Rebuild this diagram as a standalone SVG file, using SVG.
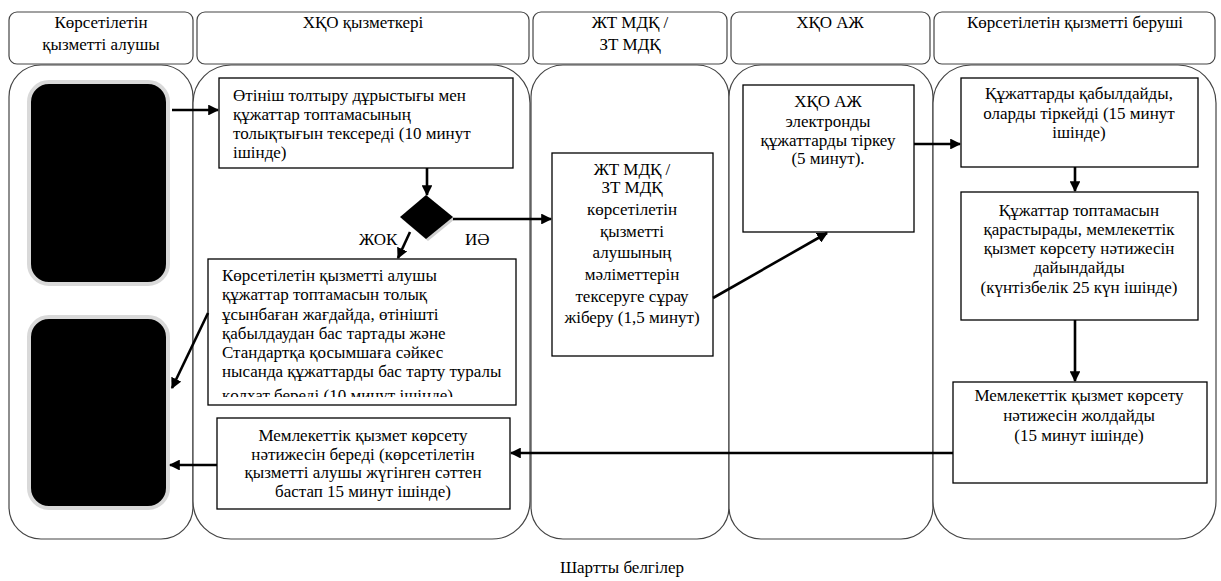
<svg xmlns="http://www.w3.org/2000/svg" width="1221" height="581" viewBox="0 0 1221 581" font-family="'Liberation Serif', 'DejaVu Serif', serif">
<style>
text{font-family:'Liberation Serif','DejaVu Serif',serif;font-size:17px;fill:#000}
.c{text-anchor:middle}
.hdr{fill:#fff;stroke:#444;stroke-width:1.2}
.lane{fill:#fff;stroke:#444;stroke-width:1.2}
.box{fill:#fff;stroke:#000;stroke-width:1.3}
.blk{fill:#000;stroke:#d9d9d9;stroke-width:4}
.ar{fill:none;stroke:#000;stroke-width:2.6;marker-end:url(#ah)}
</style>
<defs>
<marker id="ah" viewBox="0 0 10 10" refX="9" refY="5" markerWidth="4.2" markerHeight="4.2" orient="auto" markerUnits="strokeWidth">
<path d="M0,0 L10,5 L0,10 z" fill="#000"/>
</marker>
<clipPath id="clipRef"><rect x="208" y="259" width="308" height="138"/></clipPath>
</defs>
<rect width="1221" height="581" fill="#fff"/>
<g id="headers">
<g id="h1"><rect class="hdr" x="9" y="12" width="184" height="52" rx="8"/><text class="c" x="101" y="28">Көрсетілетін</text><text class="c" x="101" y="50">қызметті алушы</text></g>
<g id="h2"><rect class="hdr" x="197" y="12" width="332" height="52" rx="8"/><text class="c" x="363" y="28">ХҚО қызметкері</text></g>
<g id="h3"><rect class="hdr" x="533" y="12" width="194" height="52" rx="8"/><text class="c" x="630" y="28">ЖТ МДҚ /</text><text class="c" x="630" y="50">ЗТ МДҚ</text></g>
<g id="h4"><rect class="hdr" x="731" y="12" width="199" height="52" rx="8"/><text class="c" x="830" y="28">ХҚО АЖ</text></g>
<g id="h5"><rect class="hdr" x="934" y="12" width="281" height="52" rx="8"/><text class="c" x="1075" y="28">Көрсетілетін қызметті беруші</text></g>
</g>
<g id="lanes">
<rect class="lane" x="9" y="65" width="184" height="474" rx="32"/>
<rect class="lane" x="193" y="65" width="337" height="474" rx="38"/>
<rect class="lane" x="531" y="65" width="198" height="474" rx="32"/>
<rect class="lane" x="729" y="65" width="204" height="474" rx="32"/>
<rect class="lane" x="933" y="65" width="283" height="474" rx="38"/>
</g>
<g id="client1"><rect class="blk" x="29" y="82" width="139" height="202" rx="20"/></g>
<g id="client2"><rect class="blk" x="29" y="317" width="139" height="191" rx="20"/></g>
<g id="check">
<rect class="box" x="219" y="78" width="294" height="90"/>
<text x="233" y="101">Өтініш толтыру дұрыстығы мен</text>
<text x="233" y="120">құжаттар топтамасының</text>
<text x="233" y="139">толықтығын тексереді (10 минут</text>
<text x="233" y="158">ішінде)</text>
</g>
<g id="decision">
<polygon points="428,197 455,219 428,241 402,219" fill="#d0d0d0"/>
<polygon points="426,195 453,217 426,239 400,217" fill="#000"/>
</g>
<g id="refuse">
<rect class="box" x="208" y="259" width="308" height="146"/>
<g clip-path="url(#clipRef)">
<text x="222" y="281">Көрсетілетін қызметті алушы</text>
<text x="222" y="300">құжаттар топтамасын толық</text>
<text x="222" y="319.5">ұсынбаған жағдайда, өтінішті</text>
<text x="222" y="338.5">қабылдаудан бас тартады және</text>
<text x="222" y="358">Стандартқа қосымшаға сәйкес</text>
<text x="222" y="377">нысанда құжаттарды бас тарту туралы</text>
<text x="222" y="401">қолхат береді (10 минут ішінде)</text>
</g>
</g>
<g id="issue">
<rect class="box" x="217" y="418" width="293" height="91"/>
<text class="c" x="363" y="441">Мемлекеттік қызмет көрсету</text>
<text class="c" x="363" y="459.5">нәтижесін береді (көрсетілетін</text>
<text class="c" x="363" y="478">қызметті алушы жүгінген сәттен</text>
<text class="c" x="363" y="497">бастап 15 минут ішінде)</text>
</g>
<g id="request">
<rect class="box" x="552" y="153" width="161" height="203"/>
<text class="c" x="632" y="175">ЖТ МДҚ /</text>
<text class="c" x="632" y="193">ЗТ МДҚ</text>
<text class="c" x="632" y="215">көрсетілетін</text>
<text class="c" x="632" y="237">қызметті</text>
<text class="c" x="632" y="258">алушының</text>
<text class="c" x="632" y="280">мәліметтерін</text>
<text class="c" x="632" y="302">тексеруге сұрау</text>
<text class="c" x="632" y="323">жіберу (1,5 минут)</text>
</g>
<g id="register">
<rect class="box" x="743" y="85" width="171" height="147"/>
<text class="c" x="828" y="107">ХҚО АЖ</text>
<text class="c" x="828" y="127">электронды</text>
<text class="c" x="828" y="146">құжаттарды тіркеу</text>
<text class="c" x="828" y="164">(5 минут).</text>
</g>
<g id="accept">
<rect class="box" x="961" y="78" width="237" height="89"/>
<text class="c" x="1079" y="99">Құжаттарды қабылдайды,</text>
<text class="c" x="1079" y="119">оларды тіркейді (15 минут</text>
<text class="c" x="1079" y="138">ішінде)</text>
</g>
<g id="review">
<rect class="box" x="961" y="192" width="237" height="128"/>
<text class="c" x="1079" y="216">Құжаттар топтамасын</text>
<text class="c" x="1079" y="235">қарастырады, мемлекеттік</text>
<text class="c" x="1079" y="254">қызмет көрсету нәтижесін</text>
<text class="c" x="1079" y="273">дайындайды</text>
<text class="c" x="1079" y="293">(күнтізбелік 25 күн ішінде)</text>
</g>
<g id="send">
<rect class="box" x="953" y="382" width="254" height="101"/>
<text class="c" x="1079" y="401">Мемлекеттік қызмет көрсету</text>
<text class="c" x="1079" y="421">нәтижесін жолдайды</text>
<text class="c" x="1079" y="441">(15 минут ішінде)</text>
</g>
<g id="connectors">
<line class="ar" x1="172" y1="110" x2="218" y2="110"/>
<line class="ar" x1="427" y1="168" x2="427" y2="195"/>
<line class="ar" x1="453" y1="219" x2="551" y2="219"/>
<line class="ar" x1="410" y1="232" x2="398" y2="258"/>
<line class="ar" x1="208" y1="313" x2="172" y2="388"/>
<line class="ar" x1="713" y1="298" x2="827" y2="233"/>
<line class="ar" x1="914" y1="144" x2="960" y2="144"/>
<line class="ar" x1="1075" y1="167" x2="1075" y2="191"/>
<line class="ar" x1="1075" y1="320" x2="1075" y2="381"/>
<line class="ar" x1="953" y1="453" x2="511" y2="453"/>
<line class="ar" x1="217" y1="465" x2="170" y2="465"/>
<text x="359" y="245">ЖОК</text>
<text x="465" y="245">ИӘ</text>
</g>
<text class="c" x="622" y="573">Шартты белгілер</text>
</svg>
